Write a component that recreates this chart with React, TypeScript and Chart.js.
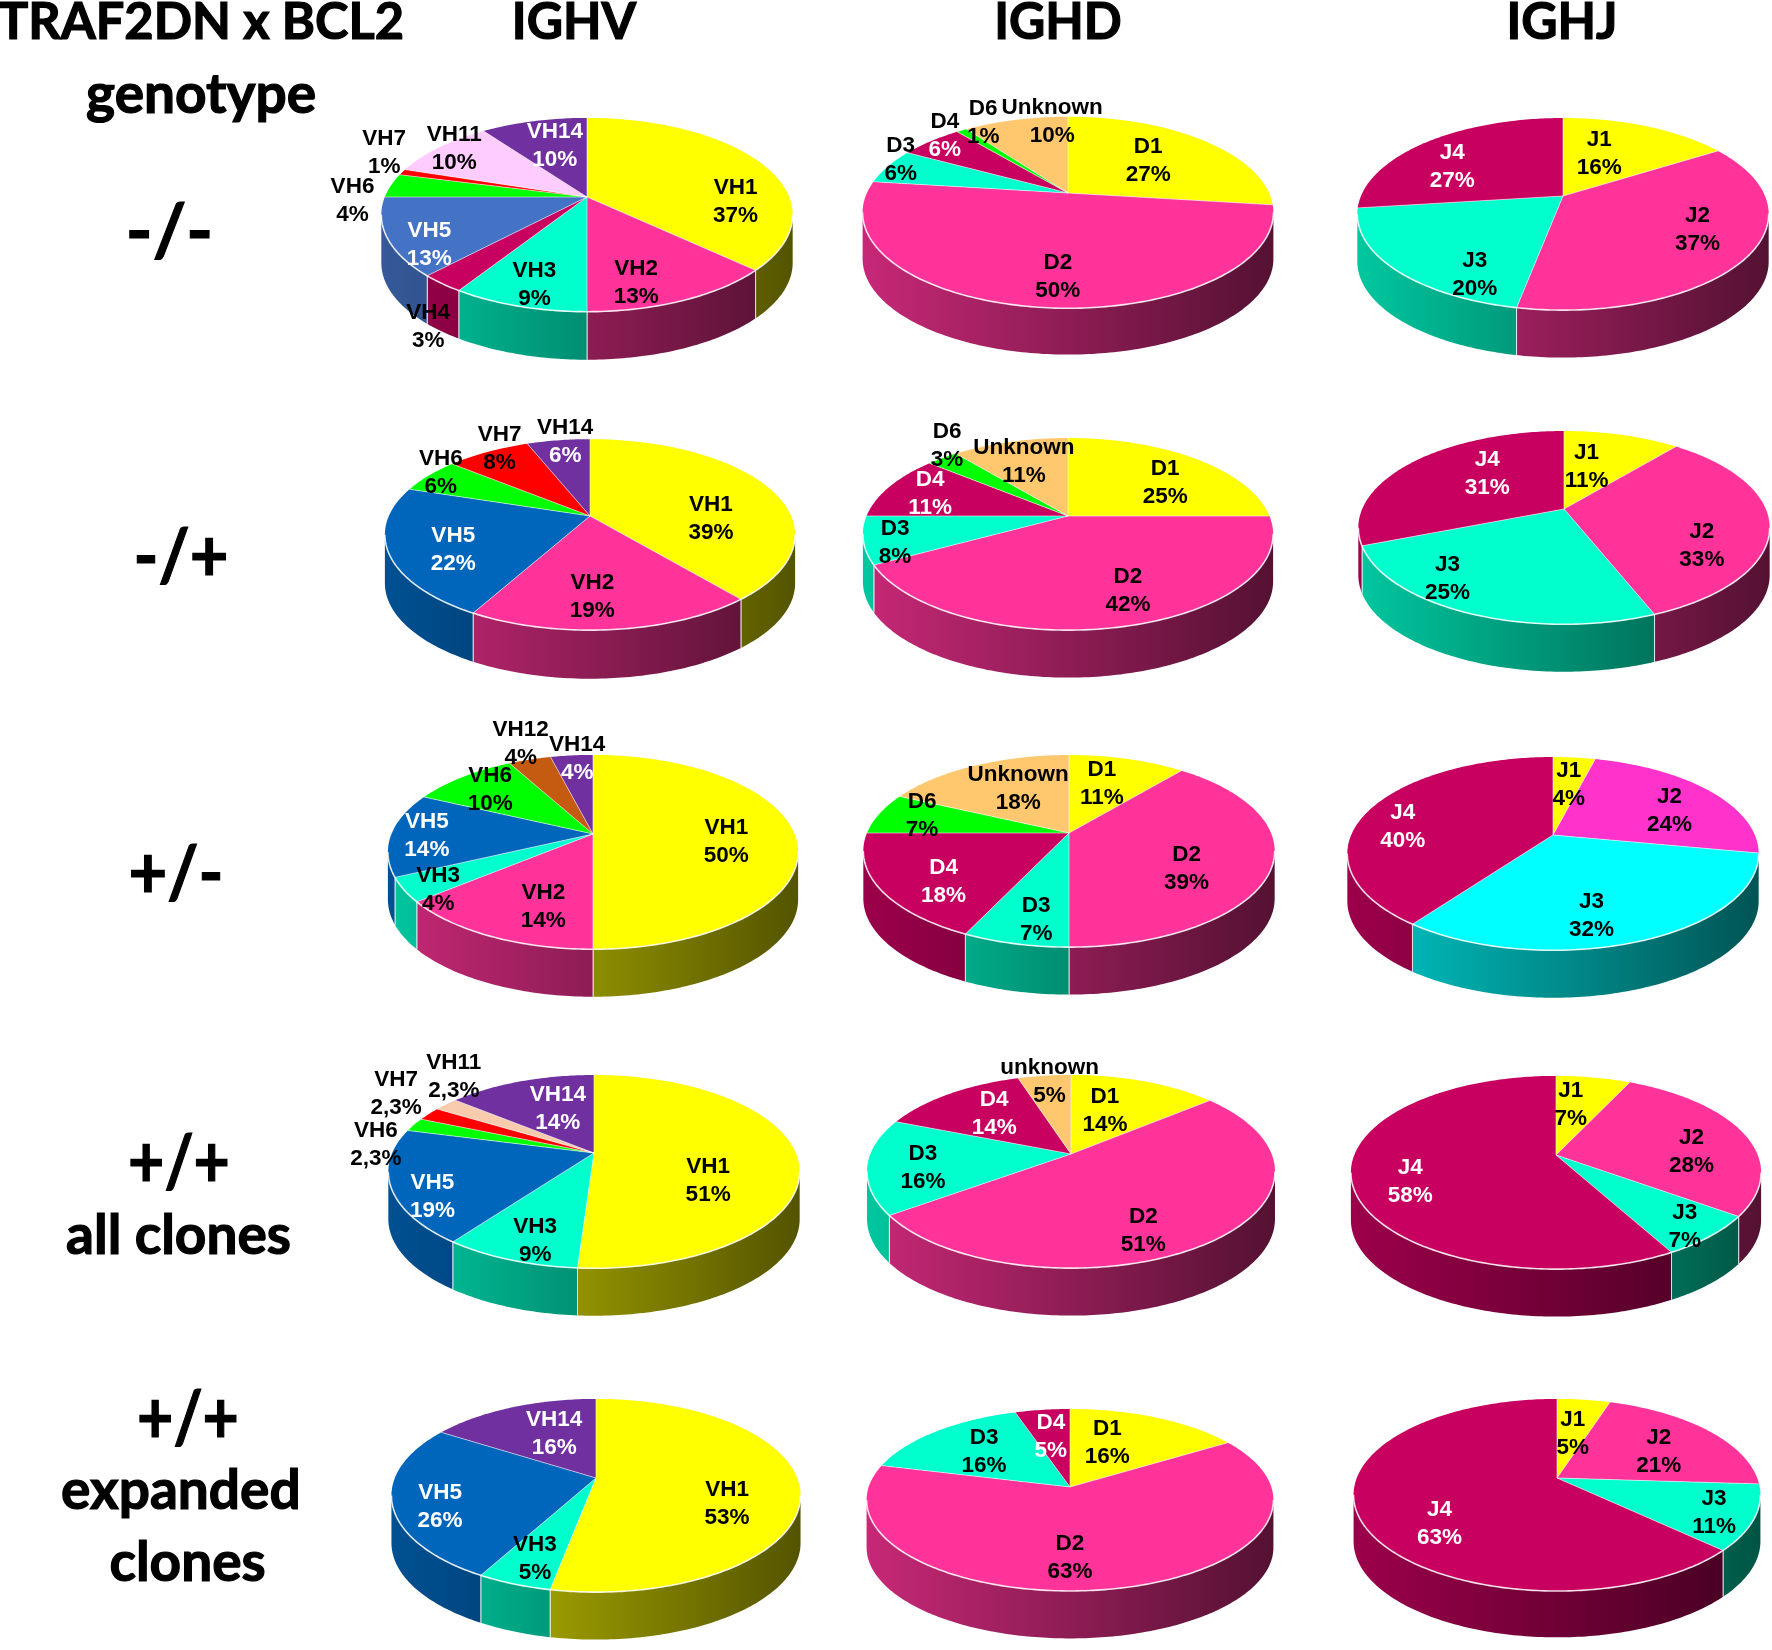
import React, { useEffect, useRef } from "react";
import { Chart, registerables } from "chart.js";

Chart.register(...registerables);

const S = 1772 / 1568;
const Y = "#FFFF00", M = "#FF3399", T = "#00FFCC", C = "#C80060", B = "#0066BB", B1 = "#4472C4";
const G = "#00FF00", R = "#FF0000", P = "#FFCCFF", V = "#7030A0", U = "#FFC86E", O = "#C55A11", A = "#F8CBAD";

// ---- data: row -/-
const v1Labels = ["VH1", "VH2", "VH3", "VH4", "VH5", "VH6", "VH7", "VH11", "VH14"];
const v1Values = [37, 13, 9, 3, 13, 4, 1, 10, 10];
const d1Labels = ["D1", "D2", "D3", "D4", "D6", "Unknown"];
const d1Values = [27, 50, 6, 6, 1, 10];
const j1Labels = ["J1", "J2", "J3", "J4"];
const j1Values = [16, 37, 20, 27];
// ---- data: row -/+
const v2Labels = ["VH1", "VH2", "VH5", "VH6", "VH7", "VH14"];
const v2Values = [39, 19, 22, 6, 8, 6];
const d2Labels = ["D1", "D2", "D3", "D4", "D6", "Unknown"];
const d2Values = [25, 42, 8, 11, 3, 11];
const j2Labels = ["J1", "J2", "J3", "J4"];
const j2Values = [11, 33, 25, 31];
// ---- data: row +/-
const v3Labels = ["VH1", "VH2", "VH3", "VH5", "VH6", "VH12", "VH14"];
const v3Values = [50, 14, 4, 14, 10, 4, 4];
const d3Labels = ["D1", "D2", "D3", "D4", "D6", "Unknown"];
const d3Values = [11, 39, 7, 18, 7, 18];
const j3Labels = ["J1", "J2", "J3", "J4"];
const j3Values = [4, 24, 32, 40];
// ---- data: row +/+ all clones
const v4Labels = ["VH1", "VH3", "VH5", "VH6", "VH7", "VH11", "VH14"];
const v4Values = [51, 9, 19, 2.3, 2.3, 2.3, 14];
const d4Labels = ["D1", "D2", "D3", "D4", "unknown"];
const d4Values = [14, 51, 16, 14, 5];
const j4Labels = ["J1", "J2", "J3", "J4"];
const j4Values = [7, 28, 7, 58];
// ---- data: row +/+ expanded clones
const v5Labels = ["VH1", "VH3", "VH5", "VH14"];
const v5Values = [53, 5, 26, 16];
const d5Labels = ["D1", "D2", "D3", "D4"];
const d5Values = [16, 63, 16, 5];
const j5Labels = ["J1", "J2", "J3", "J4"];
const j5Values = [5, 21, 11, 63];

// layout, separate from the data: [apexX, apexY, top, faceBottom, left, right, sideBottom]
const PIES: any[] = [
  { labels: v1Labels, values: v1Values, colors: [Y, M, T, C, B1, G, R, P, V], g: [519.5, 174.5, 104.5, 276, 338, 702, 318.5],
    at: [[651,177],[563,249],[473,250],[379,288],[380,215],[312,176],[340,134],[402,130],[491,127]], ink: ["kk","kk","kk","kk","ww","kk","kk","kk","ww"] },
  { labels: d1Labels, values: d1Values, colors: [Y, M, T, C, G, U], g: [945, 171, 103.5, 273, 765, 1128.5, 314],
    at: [[1016,141],[936,243],[797,140],[836,119],[870,107],[931,106]], ink: ["kk","kk","kk","kw","kk","kk"] },
  { labels: j1Labels, values: j1Values, colors: [Y, M, T, C], g: [1383, 173, 104, 274, 1201, 1565, 316],
    at: [[1415,134],[1502,201],[1305,241],[1285,145]], ink: ["kk","kk","kk","ww"] },

  { labels: v2Labels, values: v2Values, colors: [Y, M, B, G, R, V], g: [522, 457, 389, 558, 340, 703, 601],
    at: [[629,458],[524,527],[401,485],[390,417],[442,396],[500,390]], ink: ["kk","kk","ww","kk","kk","kw"] },
  { labels: d2Labels, values: d2Values, colors: [Y, M, T, C, G, U], g: [945, 457, 388, 558, 765, 1128, 600],
    at: [[1031,426],[998,521],[792,479],[823,436],[838,393],[906,407]], ink: ["kk","kk","kk","ww","kk","kk"] },
  { labels: j2Labels, values: j2Values, colors: [Y, M, T, C], g: [1384, 450, 381, 552, 1201, 1565, 594],
    at: [[1404,411],[1506,481],[1281,510],[1316,417]], ink: ["kk","kk","kk","ww"] },

  { labels: v3Labels, values: v3Values, colors: [Y, M, T, B, G, O, V], g: [525, 738, 668, 840, 343, 706, 882],
    at: [[643,743],[481,801],[388,786],[378,738],[434,697],[461,656],[511,670]], ink: ["kk","kk","kk","ww","kk","kk","kw"] },
  { labels: d3Labels, values: d3Values, colors: [Y, M, T, C, G, U], g: [946, 737, 668, 838, 765, 1129, 880],
    at: [[975,692],[1050,767],[917,812],[835,778],[816,720],[901,696]], ink: ["kk","kk","kk","ww","kk","kk"] },
  { labels: j3Labels, values: j3Values, colors: [Y, "#FF33CC", "#00FFFF", C], g: [1374, 739, 670, 841, 1193, 1557, 883],
    at: [[1388,693],[1477,716],[1408,809],[1241,730]], ink: ["kk","kk","kk","ww"] },

  { labels: v4Labels, values: v4Values, colors: [Y, T, B, G, R, A, V], g: [526, 1020, 951, 1122, 343, 707, 1164],
    at: [[627,1043],[474,1096],[383,1057],[333,1011],[351,966],[402,951],[494,979]], ink: ["kk","kk","ww","kk","kk","kk","ww"] },
  { labels: d4Labels, values: d4Values, colors: [Y, M, T, C, U], g: [948, 1021, 951, 1122, 769, 1130, 1164],
    at: [[978,981],[1012,1087],[817,1031],[880,984],[929,955]], ink: ["kk","kk","kk","ww","kk"] },
  { labels: j4Labels, values: j4Values, colors: [Y, M, T, C], g: [1377, 1022, 952, 1123, 1195, 1558, 1165],
    at: [[1390,976],[1497,1017],[1491,1084],[1248,1044]], ink: ["kk","kk","kk","ww"] },

  { labels: v5Labels, values: v5Values, colors: [Y, T, B, V], g: [527, 1308, 1238, 1409, 346, 708, 1451],
    at: [[643,1329],[473,1378],[389,1332],[490,1267]], ink: ["kk","kk","ww","ww"] },
  { labels: d5Labels, values: d5Values, colors: [Y, M, T, C], g: [947, 1316, 1247, 1408, 767, 1127, 1450],
    at: [[980,1275],[947,1377],[871,1283],[930,1270]], ink: ["kk","kk","kk","ww"] },
  { labels: j5Labels, values: j5Values, colors: [Y, M, T, C], g: [1378, 1308, 1238, 1408, 1198, 1558, 1449],
    at: [[1392,1267],[1468,1283],[1517,1337],[1274,1347]], ink: ["kk","kk","kk","ww"] },
];

// text, x, y, font size, horizontal squeeze
const TITLES: [string, number, number, number, number][] = [
  ["TRAF2DN x BCL2", 178, 17, 51, 0.99],
  ["genotype", 178, 81, 55, 1],
  ["IGHV", 508, 17, 51, 0.98],
  ["IGHD", 936, 17, 51, 0.98],
  ["IGHJ", 1382, 17, 51, 0.98],
  ["-/-", 150, 202, 72, 1],
  ["-/+", 160, 489, 72, 0.93],
  ["+/-", 156, 770, 72, 0.93],
  ["+/+", 158, 1026, 72, 0.87],
  ["all clones", 158, 1091, 55, 1],
  ["+/+", 166, 1252, 72, 0.87],
  ["expanded", 160, 1317, 55, 1],
  ["clones", 166, 1380, 55, 1],
];

const CW = 560, CH = 420;

function shade(hex: string, f: number) {
  const n = parseInt(hex.slice(1), 16);
  return `rgb(${((n >> 16) & 255) * f},${((n >> 8) & 255) * f},${(n & 255) * f})`;
}

function pie3d(p: any) {
  const [ax, ay, top, fb, left, right, sb] = p.g.map((q: number) => q * S);
  const up = ay - top, dn = fb - ay;
  const t = (dn - up) / (dn + up);
  const Ry = dn * (1 - t);
  const depth = sb - fb;
  const half = (right - left) / 2;
  const f0 = Math.asin(t), f1 = Math.PI - f0;
  return {
    id: "pie3d",
    beforeDatasetDraw(chart: any) {
      const ctx = chart.ctx;
      const arcs = chart.getDatasetMeta(0).data;
      const pt = (a: any, ang: number, dy = 0) => {
        const d = 1 - t * Math.sin(ang);
        return [a.x + (a.outerRadius * Math.cos(ang)) / d, a.y + (Ry * Math.sin(ang)) / d + dy];
      };
      const trace = (a: any, a0: number, a1: number, dy: number, first: boolean) => {
        const n = Math.max(2, Math.ceil(Math.abs(a1 - a0) * 60));
        for (let i = 0; i <= n; i++) {
          const [x, y] = pt(a, a0 + ((a1 - a0) * i) / n, dy);
          if (i === 0 && first) ctx.moveTo(x, y);
          else ctx.lineTo(x, y);
        }
      };
      ctx.save();
      // side wall
      arcs.forEach((a: any) => {
        for (const shift of [0, -2 * Math.PI, 2 * Math.PI]) {
          const s = Math.max(a.startAngle + shift, f0), e = Math.min(a.endAngle + shift, f1);
          if (e <= s) continue;
          const base = a.options.backgroundColor;
          const gr = ctx.createLinearGradient(a.x - half, 0, a.x + half, 0);
          gr.addColorStop(0, shade(base, 0.78));
          gr.addColorStop(1, shade(base, 0.33));
          ctx.beginPath();
          trace(a, s, e, 0, true);
          trace(a, e, s, depth, false);
          ctx.closePath();
          ctx.fillStyle = gr;
          ctx.fill();
          ctx.strokeStyle = "rgba(255,255,255,0.75)";
          ctx.lineWidth = 1;
          for (const b of [s, e]) {
            if (b === f0 || b === f1) continue;
            const q0 = pt(a, b), q1 = pt(a, b, depth);
            ctx.beginPath();
            ctx.moveTo(q0[0], q0[1]);
            ctx.lineTo(q1[0], q1[1]);
            ctx.stroke();
          }
        }
      });
      // top face
      arcs.forEach((a: any) => {
        ctx.beginPath();
        ctx.moveTo(a.x, a.y);
        trace(a, a.startAngle, a.endAngle, 0, false);
        ctx.closePath();
        ctx.fillStyle = a.options.backgroundColor;
        ctx.fill();
      });
      arcs.forEach((a: any) => {
        ctx.beginPath();
        ctx.moveTo(a.x, a.y);
        const q = pt(a, a.startAngle);
        ctx.lineTo(q[0], q[1]);
        ctx.strokeStyle = "rgba(255,255,255,0.55)";
        ctx.lineWidth = 1;
        ctx.stroke();
      });
      // front rim
      const a0 = arcs[0];
      ctx.beginPath();
      trace(a0, f0, f1, 0, true);
      ctx.strokeStyle = "rgba(255,255,255,0.85)";
      ctx.lineWidth = 1.6;
      ctx.stroke();
      ctx.restore();
      return false;
    },
    afterDatasetsDraw(chart: any) {
      const ctx = chart.ctx;
      const ox = ax - CW / 2, oy = ay - CH / 2;
      ctx.save();
      ctx.font = 'bold 22.5px "Liberation Sans", Arial, sans-serif';
      ctx.textAlign = "center";
      ctx.textBaseline = "middle";
      p.labels.forEach((name: string, i: number) => {
        const x = p.at[i][0] * S - ox, y = p.at[i][1] * S - oy + 2;
        const pct = String(p.values[i]).replace(".", ",") + "%";
        ctx.fillStyle = p.ink[i][0] === "w" ? "#fff" : "#000";
        ctx.fillText(name, x, y - 14);
        ctx.fillStyle = p.ink[i][1] === "w" ? "#fff" : "#000";
        ctx.fillText(pct, x, y + 14);
      });
      ctx.restore();
    },
  };
}

function Pie({ p }: { p: any }) {
  const ref = useRef<HTMLCanvasElement>(null);
  const ax = p.g[0] * S, ay = p.g[1] * S;
  useEffect(() => {
    const up = p.g[1] - p.g[2], dn = p.g[3] - p.g[1];
    const t = (dn - up) / (dn + up);
    const half = ((p.g[5] - p.g[4]) / 2) * S;
    const chart = new Chart(ref.current as HTMLCanvasElement, {
      type: "pie",
      data: {
        labels: p.labels,
        datasets: [{ data: p.values, backgroundColor: p.colors, borderWidth: 0, radius: half * Math.sqrt(1 - t * t) }],
      },
      options: {
        animation: false,
        responsive: false,
        devicePixelRatio: 1,
        layout: { padding: 0 },
        plugins: { legend: { display: false }, tooltip: { enabled: false } },
      },
      plugins: [pie3d(p)],
    } as any);
    return () => chart.destroy();
  }, [p]);
  return (
    <canvas
      ref={ref}
      width={CW}
      height={CH}
      style={{ position: "absolute", left: ax - CW / 2, top: ay - CH / 2, width: CW, height: CH }}
    />
  );
}

export default function App() {
  return (
    <div style={{ position: "absolute", left: 0, top: 0, width: 1772, height: 1650, overflow: "hidden", background: "#fff", filter: "blur(0.6px)" }}>
      {PIES.map((p, i) => (
        <Pie key={i} p={p} />
      ))}
      {TITLES.map(([s, x, y, size, sx], i) => (
        <div
          key={i}
          style={{
            position: "absolute",
            left: x * S,
            top: y * S,
            transform: `translate(-50%,-50%) scaleX(${sx})`,
            font: `700 ${size}px Lato, sans-serif`,
            color: "#000",
            whiteSpace: "nowrap",
            lineHeight: 1,
            WebkitTextStroke: "1.2px #000",
          }}
        >
          {s}
        </div>
      ))}
    </div>
  );
}
